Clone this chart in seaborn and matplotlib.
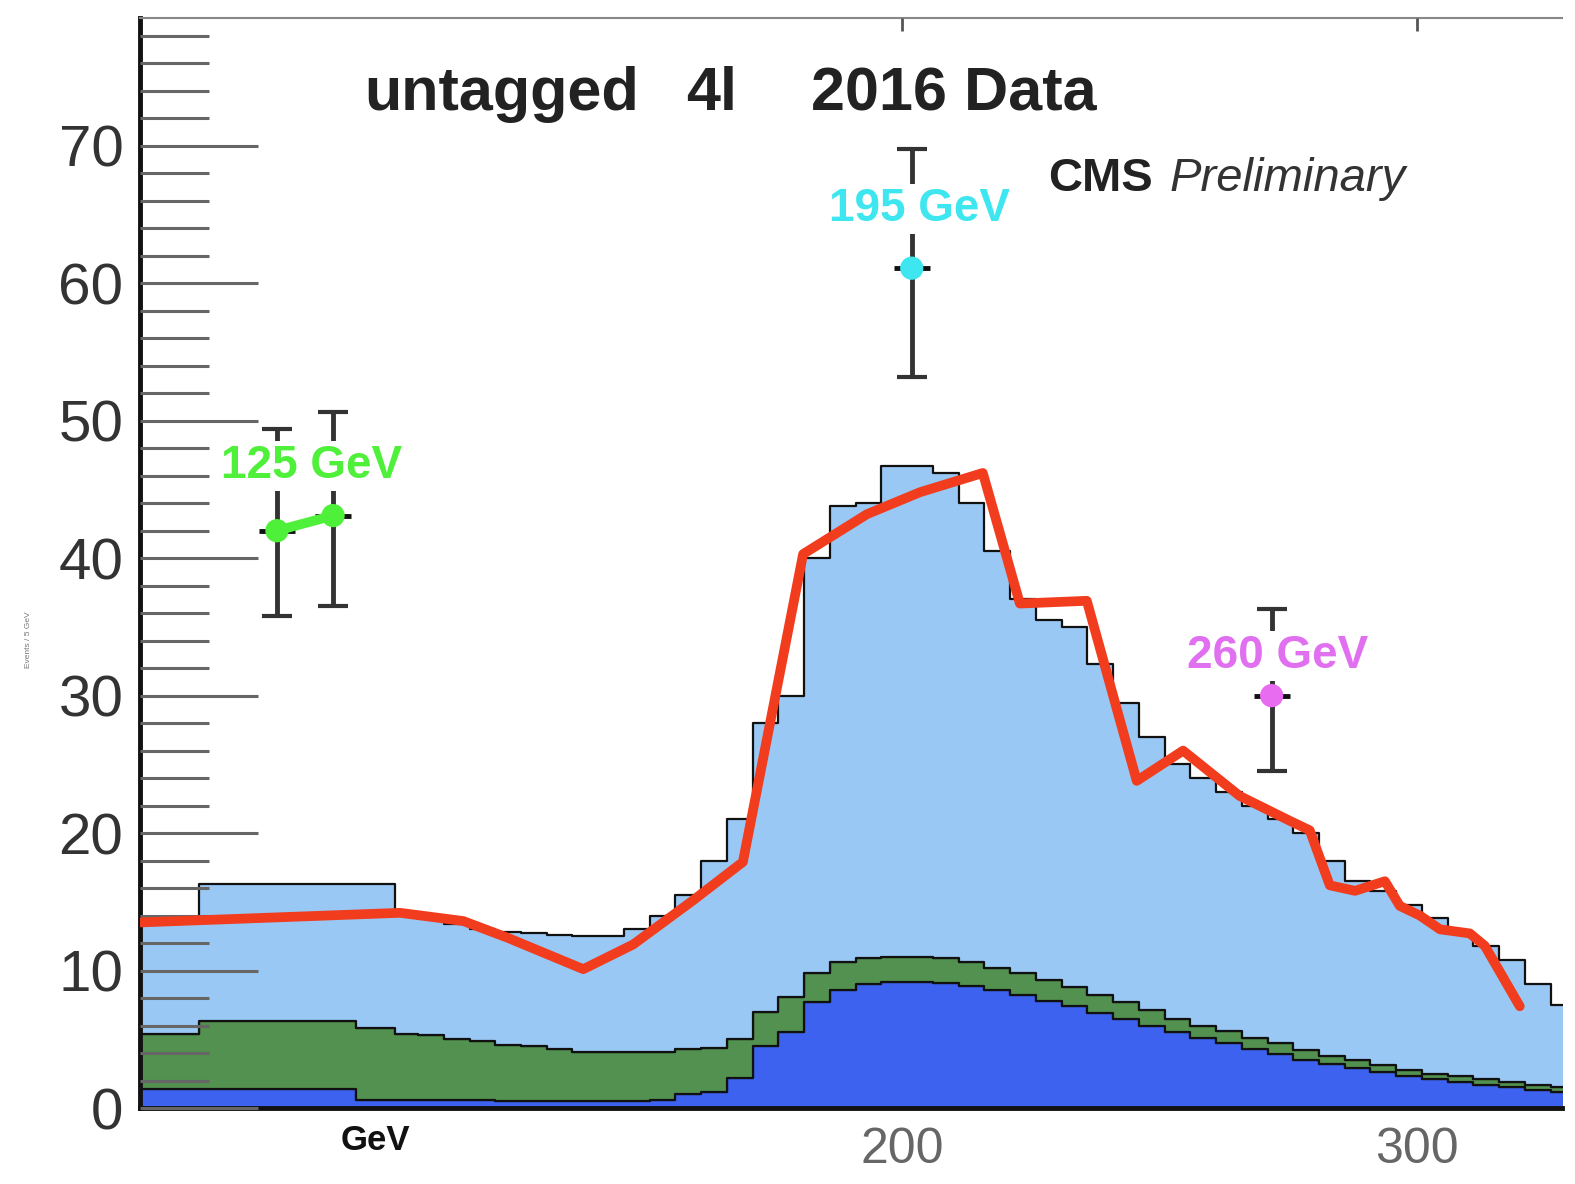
import numpy as np
import pandas as pd
import seaborn as sns
import matplotlib.pyplot as plt
from matplotlib.ticker import MultipleLocator

# four-lepton mass bins (GeV)
BIN_EDGES = [51, 63.5, 94, 101.5, 106, 111, 116, 121, 126, 131, 136, 141, 146,
             151, 156, 161, 166, 171, 176, 181, 186, 191, 196, 201, 206, 211,
             216, 221, 226, 231, 236, 241, 246, 251, 256, 261, 266, 271, 276,
             281, 286, 291, 296, 301, 306, 311, 316, 321, 326, 330]

# stacked contributions per bin (bottom -> top)
GG_ZZ = [1.4, 1.4, 0.6, 0.6, 0.6, 0.6, 0.6, 0.5, 0.5, 0.5, 0.5, 0.5, 0.5, 0.6,
         1.0, 1.2, 2.2, 4.5, 5.5, 7.7, 8.6, 9.0, 9.2, 9.2, 9.1, 8.9, 8.6, 8.2,
         7.8, 7.4, 6.9, 6.5, 6.0, 5.5, 5.1, 4.7, 4.3, 3.9, 3.5, 3.2, 2.9, 2.6,
         2.3, 2.1, 1.9, 1.7, 1.5, 1.3, 1.2]
Z_X = [4.0, 4.9, 5.2, 4.8, 4.7, 4.4, 4.3, 4.1, 4.0, 3.8, 3.6, 3.6, 3.6, 3.5,
       3.3, 3.2, 2.8, 2.5, 2.6, 2.1, 2.0, 1.9, 1.8, 1.8, 1.8, 1.7, 1.6, 1.6,
       1.5, 1.4, 1.3, 1.2, 1.1, 1.0, 0.9, 0.9, 0.8, 0.8, 0.7, 0.6, 0.6, 0.5,
       0.5, 0.4, 0.4, 0.4, 0.4, 0.4, 0.3]
QQ_ZZ = [8.5, 10.0, 10.5, 8.8, 8.6, 8.4, 8.1, 8.2, 8.2, 8.3, 8.4, 8.4, 8.9,
         9.9, 11.2, 13.6, 16.0, 21.0, 21.9, 30.2, 33.2, 33.1, 35.7, 35.7, 35.3,
         33.4, 30.3, 27.2, 26.2, 26.2, 24.1, 21.8, 19.9, 18.5, 18.0, 17.4,
         16.9, 16.3, 15.8, 14.2, 13.0, 12.7, 12.0, 11.3, 10.5, 9.7, 8.9, 7.3,
         6.0]

# red curve
RED_X = [52.0, 102.5, 114.8, 123.3, 138.1, 147.8, 159.4, 169.1, 180.8, 193.2,
         203.5, 215.7, 222.9, 235.9, 245.6, 254.6, 265.6, 275.3, 279.2, 283.1,
         288.0, 293.8, 296.7, 300.6, 304.5, 310.3, 313.2, 320.0]
RED_Y = [13.5, 14.2, 13.6, 12.4, 10.1, 11.9, 15.1, 17.9, 40.3, 43.2, 44.8,
         46.2, 36.7, 36.9, 23.8, 26.0, 22.7, 20.9, 20.2, 16.2, 15.8, 16.5,
         14.7, 14.0, 13.0, 12.7, 11.8, 7.4]

# highlighted data points
PT_X = [78.6, 89.5, 201.9, 271.8]
PT_Y = [42.0, 43.1, 61.1, 30.0]
PT_LO = [35.8, 36.5, 53.2, 24.5]
PT_HI = [49.4, 50.6, 69.8, 36.3]
PT_COL = ['#4ef03a', '#4ef03a', '#3ee6f0', '#e86cf0']

LABELS = ['125 GeV', '195 GeV', '260 GeV']
LABEL_X = [85.4, 203.5, 273.0]
LABEL_Y = [46.7, 65.4, 32.9]
LABEL_COL = ['#4ef03a', '#3ee6f0', '#e070f0']

COLOURS = {'qqZZ': '#99c8f4', 'ZX': '#52914f', 'ggZZ': '#3d62f0'}

sns.set_style('white')
plt.rcParams['font.family'] = ['Liberation Sans', 'DejaVu Sans']

edges = np.array(BIN_EDGES)
centres = (edges[:-1] + edges[1:]) / 2
n = len(centres)
df = pd.DataFrame({
    'mass': np.tile(centres, 3),
    'events': QQ_ZZ + Z_X + GG_ZZ,
    'process': ['qqZZ'] * n + ['ZX'] * n + ['ggZZ'] * n,
})

fig = plt.figure(figsize=(15.75, 11.84), dpi=100)
ax = fig.add_axes([140 / 1575, 1 - 1108 / 1184, 1422 / 1575, 1090 / 1184])

sns.histplot(data=df, x='mass', weights='events', hue='process',
             hue_order=['qqZZ', 'ZX', 'ggZZ'], palette=COLOURS,
             bins=list(BIN_EDGES), multiple='stack', element='step', alpha=1,
             edgecolor='#111', linewidth=1.6, legend=False, ax=ax)

sns.lineplot(x=RED_X, y=RED_Y, sort=False, estimator=None, color='#f23c1e',
             linewidth=7, ax=ax, zorder=6)

# error bars
for i in range(len(PT_X)):
    ax.errorbar([PT_X[i]], [PT_Y[i]],
                yerr=[[PT_Y[i] - PT_LO[i]], [PT_HI[i] - PT_Y[i]]],
                fmt='none', ecolor='#333', elinewidth=3.5, capsize=11,
                capthick=3, zorder=4)
    ax.errorbar([PT_X[i]], [PT_Y[i]], xerr=3.5, fmt='none', ecolor='#111',
                elinewidth=3.5, zorder=4)
ax.plot(PT_X[:2], PT_Y[:2], color=PT_COL[0], linewidth=7, zorder=8)
sns.scatterplot(x=PT_X, y=PT_Y, hue=PT_X, palette=PT_COL, s=280,
                edgecolor='none', legend=False, ax=ax, zorder=9)

for txt, x, y, c in zip(LABELS, LABEL_X, LABEL_Y, LABEL_COL):
    ax.text(x, y, txt, color=c, fontsize=33, fontweight='bold', ha='center',
            va='center', zorder=7,
            bbox=dict(facecolor='white', edgecolor='none', pad=2))

ax.text(122.3, 73.7, 'untagged', fontsize=44, fontweight='bold',
        color='#222', ha='center', va='center')
ax.text(163.1, 73.7, '4l', fontsize=44, fontweight='bold', color='#222',
        ha='center', va='center')
ax.text(210.1, 73.7, '2016 Data', fontsize=44, fontweight='bold',
        color='#222', ha='center', va='center')
ax.text(228.3, 67.6, 'CMS', fontsize=34, fontweight='bold', color='#222',
        ha='left', va='center')
ax.text(252.0, 67.6, 'Preliminary', fontsize=34, fontstyle='italic',
        color='#333', ha='left', va='center')
ax.text(97.7, -2.4, 'GeV', fontsize=25, fontweight='bold', color='#111',
        ha='center', va='center', clip_on=False)
fig.text(0.018, 0.46, 'Events / 5 GeV', rotation=90, fontsize=6,
         color='#777', ha='center', va='center')

ax.set_xlim(52.0, 328.2)
ax.set_ylim(0, 79.3)
ax.set_xlabel('')
ax.set_ylabel('')
ax.set_axisbelow(False)

ax.set_xticks([200, 300])
ax.set_yticks([0, 10, 20, 30, 40, 50, 60, 70])
ax.yaxis.set_minor_locator(MultipleLocator(2))
ax.tick_params(axis='y', which='major', direction='in', left=True,
               length=85, width=2.2, color='#666', labelsize=42,
               labelcolor='#333', pad=12)
ax.tick_params(axis='y', which='minor', direction='in', left=True,
               length=50, width=2.2, color='#666')
ax.tick_params(axis='x', which='major', direction='in', top=True,
               bottom=False, labeltop=False, labelbottom=True, length=9,
               width=2, color='#555', labelsize=36, labelcolor='#666', pad=14)

for side in ['left', 'bottom']:
    ax.spines[side].set_color('#111')
    ax.spines[side].set_linewidth(3.5)
ax.spines['top'].set_color('#888')
ax.spines['top'].set_linewidth(1.5)
ax.spines['right'].set_visible(False)

fig.savefig('out.png', dpi=100, facecolor='white')
plt.close(fig)
